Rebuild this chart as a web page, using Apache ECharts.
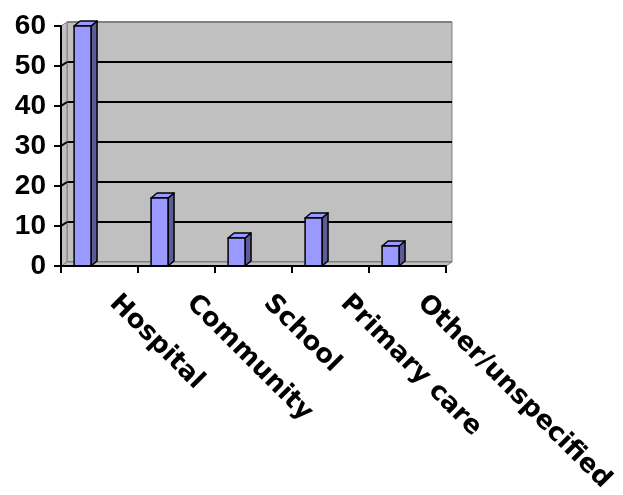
<!DOCTYPE html>
<html>
<head>
<meta charset="utf-8">
<script src="https://cdn.jsdelivr.net/npm/echarts@6/dist/echarts.min.js"></script>
<style>
html,body{margin:0;padding:0;background:#fff;}
#main{width:623px;height:495px;}
</style>
</head>
<body>
<div id="main"></div>
<script>
// ---- data ----
const categories = ['Hospital', 'Community', 'School', 'Primary care', 'Other/unspecified'];
const values = [60, 17, 7, 12, 5];
const yTicks = [0, 10, 20, 30, 40, 50, 60];

// ---- layout / style constants ----
const XFONT = '"DejaVu Sans", Arial, sans-serif';
const YFONT = '"Liberation Sans", Arial, sans-serif';
const WALL_DX = 6, WALL_DY = -4;   // depth of the 3D back wall
const BAR_DX = 6, BAR_DY = -5;     // depth of each 3D column
const FRONT = { left: 61, top: 26, width: 385, height: 240 };
const BACK = { left: FRONT.left + WALL_DX, top: FRONT.top + WALL_DY, width: FRONT.width, height: FRONT.height };

const chart = echarts.init(document.getElementById('main'), null, { renderer: 'canvas' });

function renderFrame(params, api) {
  const cs = params.coordSys;
  const x0 = cs.x, x1 = cs.x + cs.width, yb = cs.y + cs.height, yt = cs.y;
  const children = [];
  // floor
  children.push({
    type: 'polygon',
    shape: { points: [[x0, yb], [x1, yb], [x1 + WALL_DX, yb + WALL_DY], [x0 + WALL_DX, yb + WALL_DY]] },
    style: { fill: '#c0c0c0', stroke: '#808080', lineWidth: 1 }
  });
  // left side wall
  children.push({
    type: 'polygon',
    shape: { points: [[x0, yb], [x0, yt], [x0 + WALL_DX, yt + WALL_DY], [x0 + WALL_DX, yb + WALL_DY]] },
    style: { fill: '#c0c0c0', stroke: '#808080', lineWidth: 1 }
  });
  // gridline connectors on side wall
  yTicks.slice(1, -1).forEach(function (v) {
    const y = api.coord([0, v])[1];
    children.push({
      type: 'line',
      shape: { x1: x0, y1: y, x2: x0 + WALL_DX, y2: y + WALL_DY },
      style: { stroke: '#000', lineWidth: 2 }
    });
  });
  return { type: 'group', children: children };
}

function renderBar(params, api) {
  const idx = api.value(0);
  const v = api.value(1);
  const c = api.coord([idx, v]);
  const b = api.coord([idx, 0]);
  const bw = api.size([1, 0])[0];
  const x0 = c[0] - bw * 0.33, x1 = c[0] - bw * 0.11;
  const top = c[1], bot = b[1];
  const st = { stroke: '#000', lineWidth: 1.5, lineJoin: 'round' };
  return {
    type: 'group',
    children: [
      { type: 'polygon', shape: { points: [[x1, bot], [x1, top], [x1 + BAR_DX, top + BAR_DY], [x1 + BAR_DX, bot + BAR_DY]] },
        style: Object.assign({ fill: '#5c5c99' }, st) },
      { type: 'polygon', shape: { points: [[x0, top], [x1, top], [x1 + BAR_DX, top + BAR_DY], [x0 + BAR_DX, top + BAR_DY]] },
        style: Object.assign({ fill: '#9999ff' }, st) },
      { type: 'rect', shape: { x: x0, y: top, width: x1 - x0, height: bot - top },
        style: Object.assign({ fill: '#9999ff' }, st) }
    ]
  };
}

const option = {
  backgroundColor: '#ffffff',
  animation: false,
  grid: [
    Object.assign({ show: true, backgroundColor: '#c0c0c0', borderColor: '#808080', borderWidth: 1, z: 0,
      containLabel: false, outerBoundsMode: 'none' }, BACK),
    Object.assign({ show: false, containLabel: false, outerBoundsMode: 'none' }, FRONT)
  ],
  xAxis: [
    { gridIndex: 0, type: 'category', data: categories, show: false },
    {
      gridIndex: 1, type: 'category', data: categories, boundaryGap: true,
      axisLine: { show: true, lineStyle: { color: '#000', width: 2 } },
      axisTick: { show: true, inside: false, length: 7, lineStyle: { color: '#000', width: 2 } },
      axisLabel: {
        rotate: -45, margin: 19, padding: [0, 0, 0, 20], interval: 0,
        color: '#000', fontFamily: XFONT, fontWeight: 'bold', fontSize: 26
      },
      splitLine: { show: false }, z: 5
    }
  ],
  yAxis: [
    {
      gridIndex: 0, type: 'value', min: 0, max: 60, interval: 10,
      axisLine: { show: false }, axisTick: { show: false }, axisLabel: { show: false },
      splitLine: { show: true, lineStyle: { color: ['#808080', '#000', '#000', '#000', '#000', '#000', '#808080'], width: 2 } }
    },
    {
      gridIndex: 1, type: 'value', min: 0, max: 60, interval: 10,
      axisLine: { show: true, lineStyle: { color: '#000', width: 2 } },
      axisTick: { show: true, inside: false, length: 7, lineStyle: { color: '#000', width: 2 } },
      axisLabel: { margin: 15, color: '#000', fontFamily: YFONT, fontWeight: 'bold', fontSize: 28 },
      splitLine: { show: false }, z: 5
    }
  ],
  series: [
    {
      type: 'custom', xAxisIndex: 1, yAxisIndex: 1, z: 1, silent: true,
      renderItem: renderFrame, data: [[0, 0]]
    },
    {
      type: 'custom', xAxisIndex: 1, yAxisIndex: 1, z: 3,
      renderItem: renderBar,
      encode: { x: 0, y: 1 },
      data: values.map(function (v, i) { return [i, v]; })
    }
  ]
};
chart.setOption(option);
</script>
</body>
</html>
